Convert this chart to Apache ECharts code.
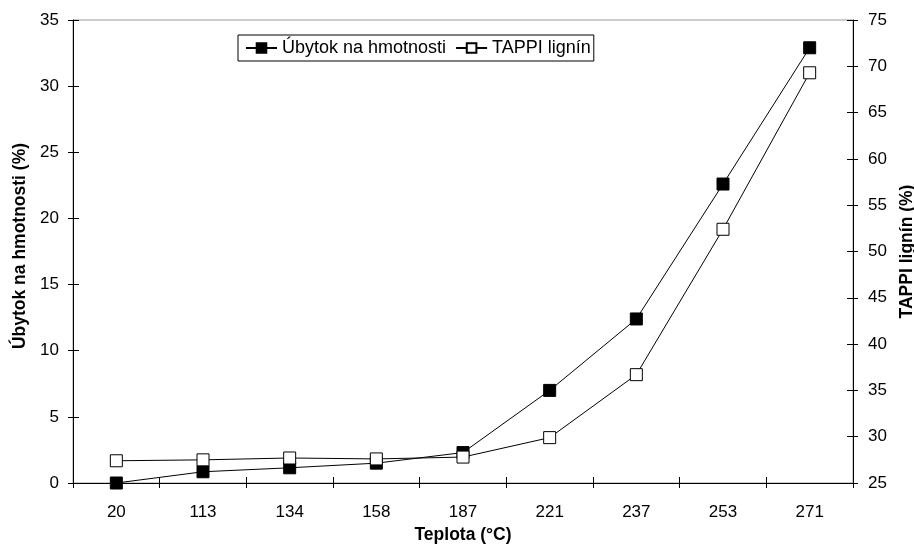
<!DOCTYPE html>
<html lang="sk">
<head>
    <meta charset="UTF-8">
    <script src="https://cdn.jsdelivr.net/npm/echarts@6/dist/echarts.min.js"></script>
    <title>Teplota</title>
</head>
<body style="margin:0; background:#fff;">
<div id="container" style="width: 914px; height: 550px;"></div>
<script>
    // hodnoty odčítané z grafu
    let teploty = ['20', '113', '134', '158', '187', '221', '237', '253', '271'];
    let ubytok = [0, 0.85, 1.15, 1.5, 2.3, 7.0, 12.4, 22.6, 32.9];
    let tappi = [27.4, 27.5, 27.7, 27.6, 27.8, 29.9, 36.7, 52.4, 69.3];

    let font = 'Liberation Sans, Arial, sans-serif';
    let dom = document.getElementById('container');
    let myChart = echarts.init(dom);

    let tick = function (inside) {
        return {show: true, inside: inside, length: inside ? 6 : 5, lineStyle: {color: '#000', width: 1}};
    };
    let nameStyle = {fontFamily: font, fontSize: 17.5, fontWeight: 'bold', color: '#000'};

    let option = {
        animation: false,
        textStyle: {fontFamily: font},
        grid: {
            left: 73, right: 61, top: 20, bottom: 67,
            outerBoundsMode: 'none',
            show: true, borderColor: '#999', borderWidth: 1, backgroundColor: 'transparent'
        },
        legend: {
            left: 238, top: 35,
            padding: [4, 3, 4, 7],
            borderColor: '#000', borderWidth: 1,
            itemWidth: 31, itemHeight: 12, itemGap: 9,
            textStyle: {fontFamily: font, fontSize: 18, color: '#000'},
            data: ['Úbytok na hmotnosti', 'TAPPI lignín']
        },
        xAxis: [{
            type: 'category',
            data: teploty,
            boundaryGap: true,
            name: 'Teplota (°C)',
            nameLocation: 'middle',
            nameGap: 40,
            nameTextStyle: nameStyle,
            axisLine: {lineStyle: {color: '#000', width: 1}},
            axisTick: tick(false),
            axisLabel: {fontFamily: font, fontSize: 17, color: '#000', margin: 21},
            splitLine: {show: false}
        }, {
            // vnútorná časť krížových značiek
            type: 'category',
            data: teploty,
            position: 'bottom',
            axisLine: {show: false},
            axisTick: tick(true),
            axisLabel: {show: false},
            splitLine: {show: false}
        }],
        yAxis: [{
            type: 'value',
            min: 0, max: 35, interval: 5,
            position: 'left',
            name: 'Úbytok na hmotnosti (%)',
            nameLocation: 'middle',
            nameGap: 38,
            nameTextStyle: Object.assign({}, nameStyle, {padding: [0, 0, 0, 11]}),
            axisLine: {show: true, lineStyle: {color: '#000', width: 1}},
            axisTick: tick(false),
            axisLabel: {fontFamily: font, fontSize: 17, color: '#000', margin: 14},
            splitLine: {show: false}
        }, {
            type: 'value',
            min: 25, max: 75, interval: 5,
            position: 'right',
            name: 'TAPPI lignín (%)',
            nameLocation: 'middle',
            nameGap: 43,
            nameTextStyle: nameStyle,
            axisLine: {show: true, lineStyle: {color: '#000', width: 1}},
            axisTick: tick(false),
            axisLabel: {fontFamily: font, fontSize: 17, color: '#000', margin: 15},
            splitLine: {show: false}
        }, {
            type: 'value',
            min: 0, max: 35, interval: 5,
            position: 'left',
            axisLine: {show: false},
            axisTick: tick(true),
            axisLabel: {show: false},
            splitLine: {show: false}
        }, {
            type: 'value',
            min: 25, max: 75, interval: 5,
            position: 'right',
            axisLine: {show: false},
            axisTick: tick(true),
            axisLabel: {show: false},
            splitLine: {show: false}
        }],
        series: [{
            name: 'Úbytok na hmotnosti',
            type: 'line',
            yAxisIndex: 0,
            data: ubytok,
            symbol: 'rect',
            symbolSize: 12,
            showAllSymbol: true,
            lineStyle: {color: '#000', width: 1},
            itemStyle: {color: '#000', borderColor: '#000', borderWidth: 1}
        }, {
            name: 'TAPPI lignín',
            type: 'line',
            yAxisIndex: 1,
            data: tappi,
            symbol: 'rect',
            symbolSize: 12,
            showAllSymbol: true,
            lineStyle: {color: '#000', width: 1},
            itemStyle: {color: '#fff', borderColor: '#000', borderWidth: 1}
        }]
    };

    myChart.setOption(option);
</script>
</body>
</html>
